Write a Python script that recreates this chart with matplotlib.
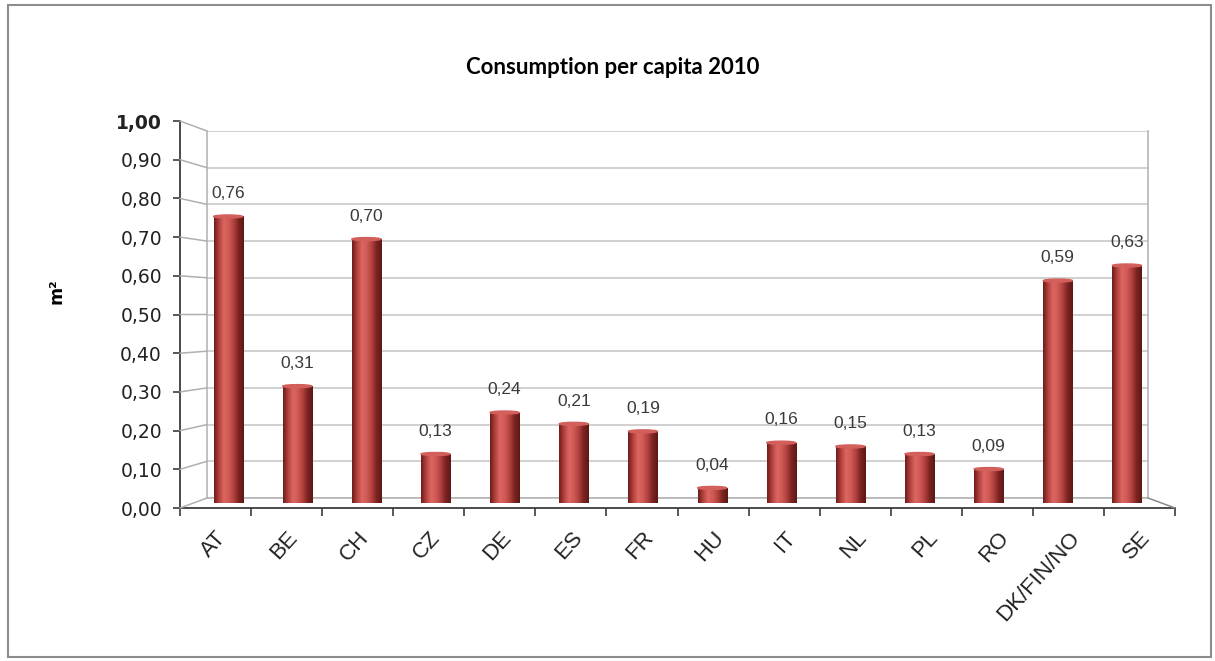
import matplotlib
matplotlib.use("Agg")
import matplotlib.pyplot as plt
import numpy as np
from matplotlib.patches import Rectangle, Ellipse, ConnectionPatch
from matplotlib.colors import LinearSegmentedColormap

# data
countries = ["AT", "BE", "CH", "CZ", "DE", "ES", "FR", "HU", "IT", "NL", "PL", "RO",
             "DK/FIN/NO", "SE"]
values = [0.76, 0.31, 0.70, 0.13, 0.24, 0.21, 0.19, 0.04, 0.16, 0.15, 0.13, 0.09,
          0.59, 0.63]
y_ticks = [0.0, 0.1, 0.2, 0.3, 0.4, 0.5, 0.6, 0.7, 0.8, 0.9, 1.0]

W, H = 1215, 661
fig = plt.figure(figsize=(W / 100, H / 100), dpi=100)


def box(left, top, right, bottom):
    # pixel box -> figure fraction
    return [left / W, 1 - bottom / H, (right - left) / W, (bottom - top) / H]


n = len(countries)
x = np.arange(n)
xlim = (-0.5, n - 0.5)

# back wall
ax_back = fig.add_axes(box(207, 131, 1148, 498))
ax_back.set_xlim(*xlim)
ax_back.set_ylim(0, 1)
ax_back.set_yticks(y_ticks)
ax_back.set_xticks([])
ax_back.tick_params(left=False, labelleft=False)
ax_back.grid(axis="y", color="#c4c4c4", lw=1.1)
for s in ax_back.spines.values():
    s.set_color("#b0b0b0")
    s.set_linewidth(1.1)
ax_back.spines["top"].set_visible(False)

# bars (middle depth)
ax_mid = fig.add_axes(box(193.5, 126, 1161.5, 503))
ax_mid.patch.set_visible(False)
ax_mid.axis("off")
cyl = LinearSegmentedColormap.from_list(
    "cyl", ["#6e1d1b", "#b4423f", "#dc6662", "#cf5955", "#b0403d", "#7a2321", "#5e1816"])
grad = np.linspace(0, 1, 64).reshape(1, -1)
bars = ax_mid.bar(x, values, width=0.42, color="#c0504d", zorder=2)
for b, v in zip(bars, values):
    x0, w = b.get_x(), b.get_width()
    im = ax_mid.imshow(grad, extent=(x0, x0 + w, 0, v), aspect="auto", cmap=cyl, zorder=3)
    im.set_clip_path(b)
    ax_mid.add_patch(Ellipse((x0 + w / 2, v), w, 0.008, color="#d35f5b", zorder=4))
    ax_mid.annotate(f"{v:.2f}".replace(".", ","), (x0 + w / 2, v), xytext=(0, 11),
                    textcoords="offset points", ha="center", va="bottom",
                    fontsize=12.5, color="#3a3a3a", family="Liberation Sans")
ax_mid.set_xlim(*xlim)
ax_mid.set_ylim(0, 1)

# front axis
ax = fig.add_axes(box(180, 121, 1175, 508))
ax.patch.set_visible(False)
ax.set_xlim(*xlim)
ax.set_ylim(0, 1)
for s in ["top", "right"]:
    ax.spines[s].set_visible(False)
for s in ["left", "bottom"]:
    ax.spines[s].set_color("#3c3c3c")
    ax.spines[s].set_linewidth(1.3)
ax.set_yticks(y_ticks)
ax.set_yticklabels([f"{t:.2f}".replace(".", ",") for t in y_ticks],
                   fontsize=13.5, family="DejaVu Sans", color="#222222")
ax.get_yticklabels()[-1].set_fontweight("bold")
ax.tick_params(axis="y", direction="out", length=5, width=1.2, color="#3c3c3c", pad=8)
ax.set_xticks(x)
ax.set_xticks(np.arange(n + 1) - 0.5, minor=True)
ax.tick_params(axis="x", which="major", length=0, pad=14)
ax.tick_params(axis="x", which="minor", direction="out", length=6, width=1.2, color="#3c3c3c")
ax.set_xticklabels(countries, rotation=48, ha="right", va="top", rotation_mode="anchor",
                   fontsize=16, family="Liberation Sans", color="#222222")
for lab in ax.get_xticklabels():
    lab.set_x(lab.get_position()[0])
ax.set_ylabel("m²", fontsize=12.5, fontweight="bold", labelpad=0)
ax.yaxis.set_label_coords(-0.115, 0.56)

# side wall and floor edges
for t in y_ticks:
    con = ConnectionPatch((xlim[0], t), (xlim[0], t), coordsA=ax.transData,
                          coordsB=ax_back.transData, color="#b0b0b0", lw=1.1)
    fig.add_artist(con)
con = ConnectionPatch((xlim[1], 0), (xlim[1], 0), coordsA=ax.transData,
                      coordsB=ax_back.transData, color="#8a8a8a", lw=1.1)
fig.add_artist(con)

fig.text(613 / W, 1 - 67 / H, "Consumption per capita 2010", ha="center", va="center",
         fontsize=16, fontweight="bold", family="Lato")

# outer frame
fig.add_artist(Rectangle((8 / W, 1 - 657 / H), 1203 / W, 652 / H, transform=fig.transFigure,
                         fill=False, edgecolor="#8c8c8c", lw=1.5))

fig.savefig("out.png", dpi=100)
